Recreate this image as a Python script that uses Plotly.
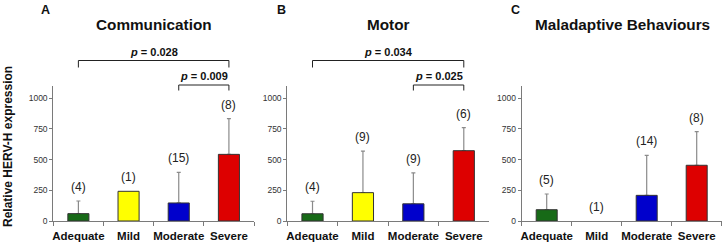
import plotly.graph_objects as go

categories = ["Adequate", "Mild", "Moderate", "Severe"]
bar_colors = ["#176a17", "#ffff00", "#0000cc", "#dd0000"]

comm_mean = [60, 242, 147, 543]
comm_err = [103, 0, 250, 291]
comm_n = [4, 1, 15, 8]

motor_mean = [59, 231, 140, 573]
motor_err = [102, 339, 252, 188]
motor_n = [4, 9, 9, 6]

mal_mean = [92, 0, 209, 454]
mal_err = [128, 0, 326, 274]
mal_n = [5, 1, 14, 8]

titles = ["Communication", "Motor", "Maladaptive Behaviours"]
letters = ["A", "B", "C"]
yticks = [0, 250, 500, 750, 1000]

# p-value brackets: (panel index, from category, to category, p text, level)
brackets = [
    (0, "Adequate", "Severe", "0.028", 0),
    (0, "Moderate", "Severe", "0.009", 1),
    (1, "Adequate", "Severe", "0.034", 0),
    (1, "Moderate", "Severe", "0.025", 1),
]

panels = [(comm_mean, comm_err, comm_n), (motor_mean, motor_err, motor_n), (mal_mean, mal_err, mal_n)]

W, H = 726, 246
FONT = "Arial, Liberation Sans, sans-serif"
x_domains_px = [(53.3, 254.0), (287.3, 489.0), (521.7, 721.7)]
y_domain = [1 - 221 / H, 1 - 86 / H]

fig = go.Figure()
annotations = []
shapes = []

for i, (mean, err, n) in enumerate(panels):
    sfx = "" if i == 0 else str(i + 1)
    xref, yref = "x" + sfx, "y" + sfx
    err_plus = [e if e > 0 else "nan" for e in err]
    err_minus = [0 if e > 0 else "nan" for e in err]
    # error bars (drawn underneath, lower part hidden by the bars)
    fig.add_trace(go.Bar(
        x=categories, y=mean, width=0.42, xaxis=xref, yaxis=yref,
        marker=dict(color="rgba(0,0,0,0)", line=dict(width=0)),
        error_y=dict(type="data", symmetric=False, array=err_plus, arrayminus=err_minus,
                     color="#8a8a8a", thickness=1.2, width=2),
        showlegend=False, hoverinfo="skip"))
    # visible bars
    fig.add_trace(go.Bar(
        x=categories, y=mean, width=0.42, xaxis=xref, yaxis=yref,
        marker=dict(color=bar_colors,
                    line=dict(color="#333333", width=[1 if m > 0 else 0 for m in mean])),
        showlegend=False))
    for c, m, e, k in zip(categories, mean, err, n):
        annotations.append(dict(x=c, y=m + e, xref=xref, yref=yref, text=f"({k})",
                                showarrow=False, xanchor="center", yanchor="middle", yshift=14,
                                font=dict(size=12, color="#222222", family=FONT)))
    x0, x1 = x_domains_px[i]
    layout_x = dict(domain=[x0 / W, x1 / W], type="category", categoryorder="array",
                    categoryarray=categories, range=[-0.5, 3.5], showline=True,
                    linecolor="#7a7a7a", linewidth=1, ticks="outside", tickson="boundaries",
                    ticklen=4, tickcolor="#7a7a7a", showgrid=False, anchor=yref,
                    tickangle=0, automargin=False, ticklabelstandoff=4,
                    tickfont=dict(size=11.5, color="#111111", family=FONT, weight="bold"))
    layout_y = dict(domain=y_domain, range=[0, 1100], tickvals=yticks, showline=True,
                    linecolor="#7a7a7a", linewidth=1, ticks="outside", ticklen=3,
                    tickcolor="#7a7a7a", showgrid=False, zeroline=False, anchor=xref,
                    automargin=False,
                    tickfont=dict(size=8.5, color="#333333", family=FONT))
    fig.update_layout(**{"xaxis" + sfx: layout_x, "yaxis" + sfx: layout_y})
    cx = (x0 + x1) / 2 / W
    annotations.append(dict(x=cx + 0.001, y=1 - 25 / H, xref="paper", yref="paper",
                            xanchor="center", yanchor="middle",
                            text=f"<b>{titles[i]}</b>", showarrow=False,
                            font=dict(size=15.3, color="#111111", family=FONT)))
    annotations.append(dict(x=[45.5, 281, 515][i] / W, y=1 - 10 / H, xref="paper", yref="paper",
                            xanchor="center", yanchor="middle",
                            text=f"<b>{letters[i]}</b>", showarrow=False,
                            font=dict(size=12.5, color="#111111", family=FONT)))

for (p, c0, c1, ptxt, lvl) in brackets:
    sfx = "" if p == 0 else str(p + 1)
    xref = "x" + sfx
    ytop = [60.5, 85.0][lvl]
    ybot = [67.5, 90.5][lvl]
    ytxt = [52.5, 76.0][lvl]
    line = dict(color="#222222", width=1)
    shapes.append(dict(type="line", xref=xref, yref="paper", x0=c0, x1=c1,
                       y0=1 - ytop / H, y1=1 - ytop / H, line=line))
    for c in (c0, c1):
        shapes.append(dict(type="line", xref=xref, yref="paper", x0=c, x1=c,
                           y0=1 - ytop / H, y1=1 - ybot / H, line=line))
    i0, i1 = categories.index(c0), categories.index(c1)
    annotations.append(dict(x=(i0 + i1) / 2, y=1 - ytxt / H, xref=xref, yref="paper",
                            xanchor="center", yanchor="middle",
                            text=f"<b><i>p</i> = {ptxt}</b>", showarrow=False,
                            font=dict(size=11, color="#111111", family=FONT)))

annotations.append(dict(x=8 / W, y=1 - 147 / H, xref="paper", yref="paper",
                        xanchor="center", yanchor="middle",
                        text="<b>Relative HERV-H expression</b>", textangle=-90,
                        showarrow=False, font=dict(size=12, color="#111111", family=FONT)))

fig.update_layout(width=W, height=H, margin=dict(l=0, r=0, t=0, b=0),
                  paper_bgcolor="white", plot_bgcolor="white", barmode="overlay",
                  annotations=annotations, shapes=shapes,
                  font=dict(family=FONT))

fig.write_html("out.html", config={"displayModeBar": False},
               post_script="document.body.style.margin='0';document.body.style.overflow='hidden';")
